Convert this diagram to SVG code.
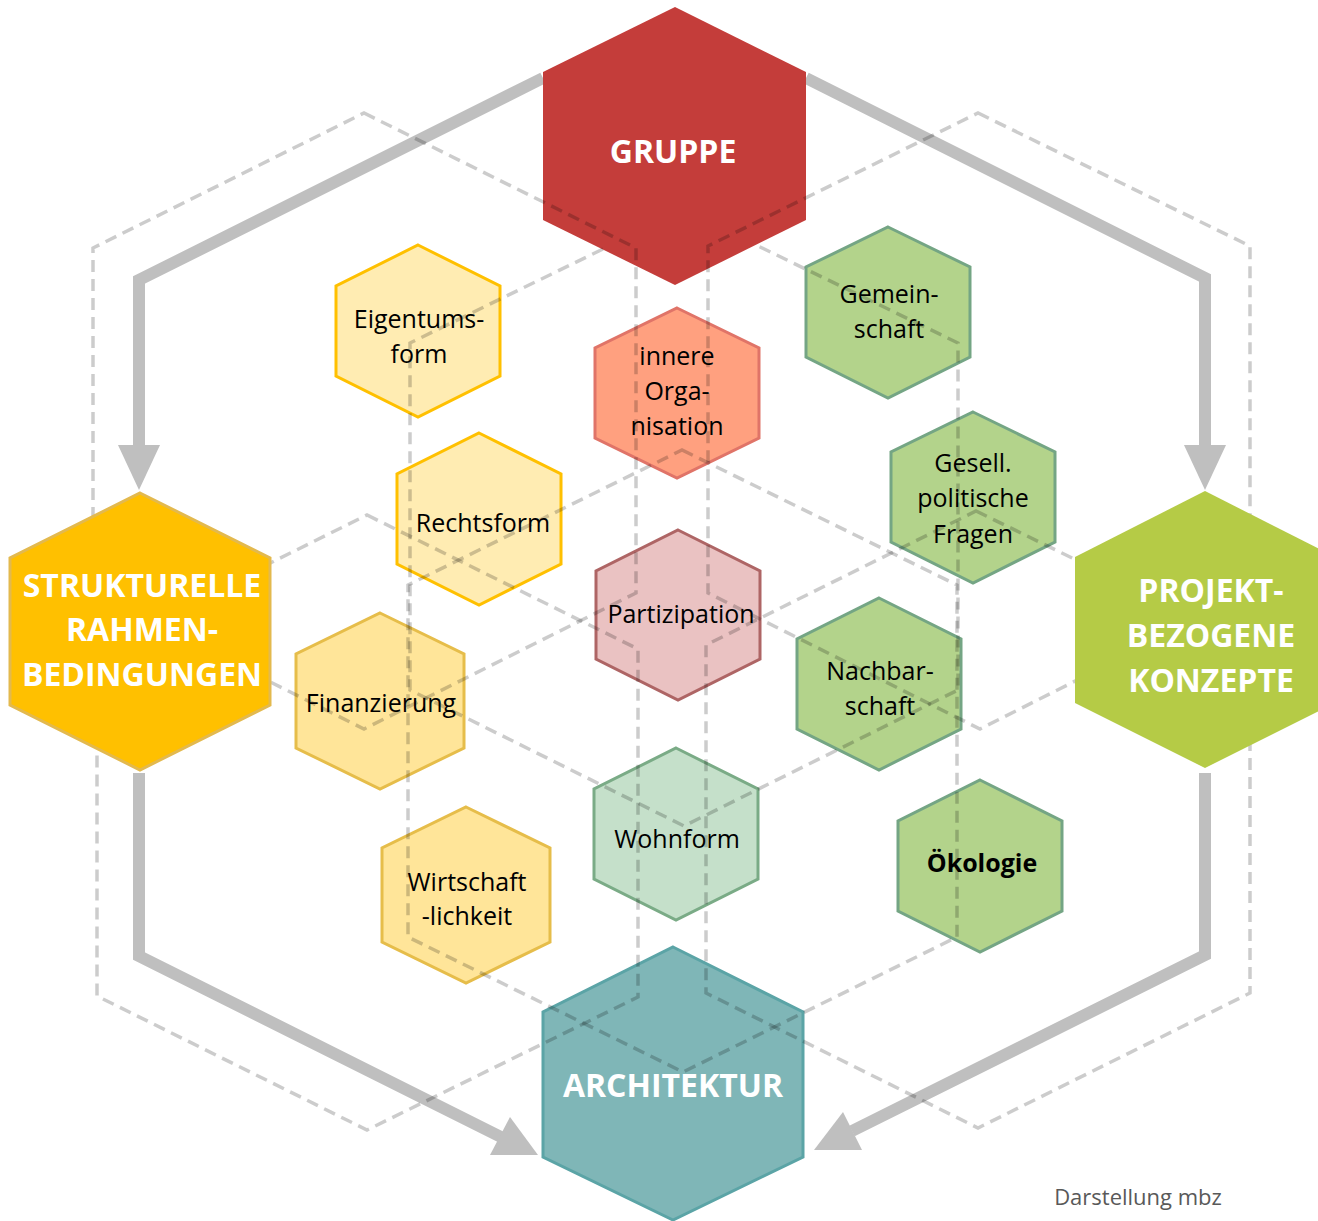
<svg xmlns="http://www.w3.org/2000/svg" width="1318" height="1221" viewBox="0 0 1318 1221">
<style>
.arrow{fill:none;stroke:#bfbfbf;stroke-width:12;stroke-linejoin:miter}
.head{fill:#bfbfbf}
.dash{fill:none;stroke:#000;stroke-opacity:.2;stroke-width:3.5;stroke-dasharray:12 7}
.big{font-family:"Open Sans","Liberation Sans",sans-serif;font-weight:700;font-size:32px;fill:#fff;text-anchor:middle}
.lbl{font-family:"Open Sans","Liberation Sans",sans-serif;font-size:25px;fill:#000;text-anchor:middle}
.yl{fill:#FFECB2;stroke:#FFC000;stroke-width:3}
.yd{fill:#FFE599;stroke:#E6BD4A;stroke-width:3}
.gr{fill:#B3D38B;stroke:#74A584;stroke-width:3}
</style>
<rect width="1318" height="1221" fill="#fff"/>
<g id="connectors">
<path class="arrow" d="M543 78 L139 280 L139 446"/>
<polygon class="head" points="118,445 160,445 139,490"/>
<path class="arrow" d="M806 78 L1205 278 L1205 446"/>
<polygon class="head" points="1184,445 1226,445 1205,490"/>
<path class="arrow" d="M139 773 L139 956 L501 1137"/>
<polygon class="head" points="510,1117 490,1155 538,1155"/>
<path class="arrow" d="M1205 773 L1205 955 L852 1131"/>
<polygon class="head" points="843,1112 862,1150 814,1150"/>
</g>
<g id="gruppe">
<polygon points="675,7 806,72 806,220 675,285 543,220 543,72" fill="#C43D3A"/>
<text class="big" x="673" y="163">GRUPPE</text>
</g>
<g id="architektur">
<polygon points="673,947 803,1012 803,1157 673,1220 543,1157 543,1012" fill="#7FB6B7" stroke="#5BA4A6" stroke-width="3"/>
<text class="big" x="673" y="1097">ARCHITEKTUR</text>
</g>
<g id="eigentumsform">
<polygon class="yl" points="418,245 500,286 500,376 418,417 336,376 336,286"/>
<text class="lbl" x="419" y="328">Eigentums-</text>
<text class="lbl" x="419" y="363">form</text>
</g>
<g id="rechtsform">
<polygon class="yl" points="479,433 561,474 561,564 479,605 397,564 397,474"/>
<text class="lbl" x="483" y="532">Rechtsform</text>
</g>
<g id="finanzierung">
<polygon class="yd" points="380,613 464,654 464,748 380,789 296,748 296,654"/>
<text class="lbl" x="381" y="712">Finanzierung</text>
</g>
<g id="wirtschaftlichkeit">
<polygon class="yd" points="466,807 550,848 550,942 466,983 382,942 382,848"/>
<text class="lbl" x="467" y="891">Wirtschaft</text>
<text class="lbl" x="467" y="925">-lichkeit</text>
</g>
<g id="innere-organisation">
<polygon points="677,308 759,348 759,438 677,478 595,438 595,348" fill="#FFA07F" stroke="#E07468" stroke-width="3"/>
<text class="lbl" x="677" y="365">innere</text>
<text class="lbl" x="677" y="400">Orga-</text>
<text class="lbl" x="677" y="435">nisation</text>
</g>
<g id="partizipation">
<polygon points="678,530 760,571 760,659 678,700 596,659 596,571" fill="#EAC2C2" stroke="#AE6565" stroke-width="3"/>
<text class="lbl" x="681" y="623">Partizipation</text>
</g>
<g id="wohnform">
<polygon points="676,748 758,789 758,879 676,920 594,879 594,789" fill="#C5E0CA" stroke="#7AAB86" stroke-width="3"/>
<text class="lbl" x="677" y="848">Wohnform</text>
</g>
<g id="gemeinschaft">
<polygon class="gr" points="888,227 970,267 970,357 888,398 806,357 806,267"/>
<text class="lbl" x="889" y="303">Gemein-</text>
<text class="lbl" x="889" y="338">schaft</text>
</g>
<g id="gesellpolitische-fragen">
<polygon class="gr" points="973,412 1055,452 1055,542 973,583 891,542 891,452"/>
<text class="lbl" x="973" y="472">Gesell.</text>
<text class="lbl" x="973" y="507">politische</text>
<text class="lbl" x="973" y="543">Fragen</text>
</g>
<g id="nachbarschaft">
<polygon class="gr" points="879,598 961,639 961,729 879,770 797,729 797,639"/>
<text class="lbl" x="880" y="680">Nachbar-</text>
<text class="lbl" x="880" y="715">schaft</text>
</g>
<g id="oekologie">
<polygon class="gr" points="980,780 1062,821 1062,911 980,952 898,911 898,821"/>
<text class="lbl" x="982" y="872" font-weight="700">Ökologie</text>
</g>
<g id="grid">
<path class="dash" d="M364 113 L636 248 L636 593 L364 729 L93 593 L93 248 Z"/>
<path class="dash" d="M367 515 L638 649 L638 997 L367 1130 L97 996 L97 649 Z"/>
<path class="dash" d="M603 249 L410 343 L410 690 L684 826 L958 690 L958 343 L756 245"/>
<path class="dash" d="M682 450 L957 585 L957 937 L683 1072 L408 937 L408 585 Z"/>
<path class="dash" d="M978 113 L1250 246 L1250 593 L980 729 L708 593 L708 246 Z"/>
<path class="dash" d="M976 511 L1250 645 L1250 993 L978 1128 L706 993 L706 645 Z"/>
</g>
<g id="strukturelle-rahmenbedingungen">
<polygon points="140,493 270,558 270,705 140,770 10,705 10,558" fill="#FFC000" stroke="#E3B94E" stroke-width="3"/>
<text class="big" x="142" y="597">STRUKTURELLE</text>
<text class="big" x="142" y="641">RAHMEN-</text>
<text class="big" x="142" y="686">BEDINGUNGEN</text>
</g>
<g id="projektbezogene-konzepte">
<polygon points="1205,491 1335,557 1335,703 1205,768 1075,703 1075,557" fill="#B5CB46"/>
<text class="big" x="1211" y="602">PROJEKT-</text>
<text class="big" x="1211" y="647">BEZOGENE</text>
<text class="big" x="1211" y="692">KONZEPTE</text>
</g>
<text x="1138" y="1205" font-family="'Open Sans','Liberation Sans',sans-serif" font-size="22" fill="#595959" text-anchor="middle">Darstellung mbz</text>
</svg>
